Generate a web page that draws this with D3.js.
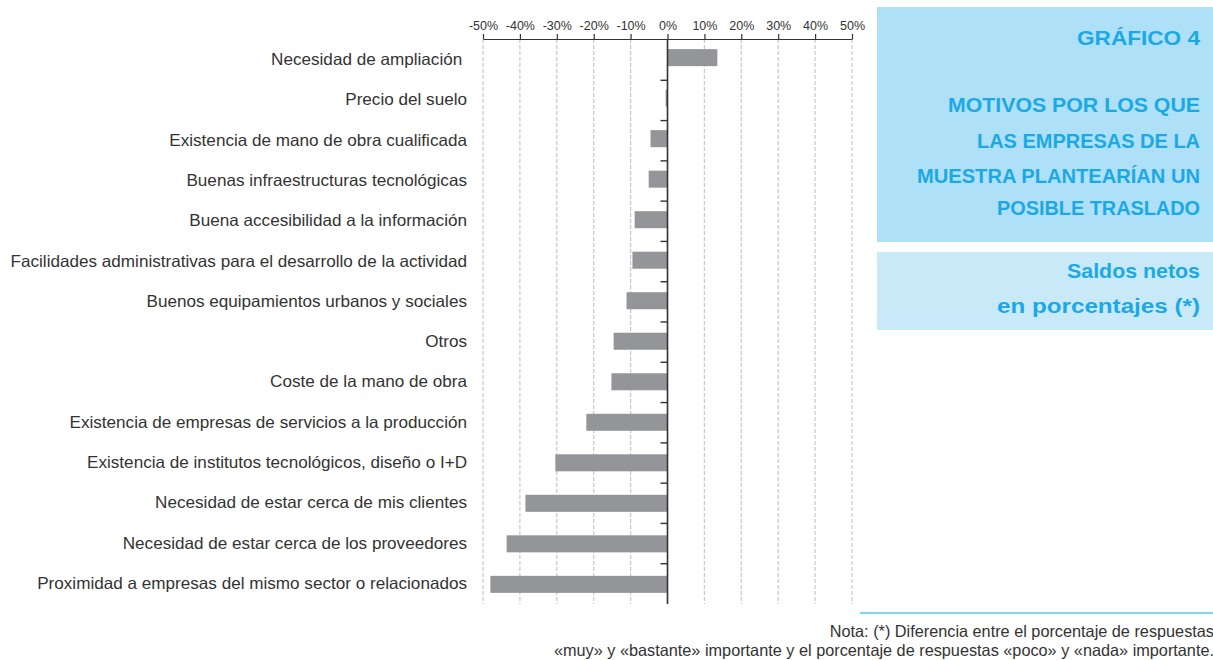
<!DOCTYPE html>
<html><head><meta charset="utf-8">
<script src="https://cdn.jsdelivr.net/npm/d3@7"></script>
<style>
html,body{margin:0;padding:0;background:#fff;overflow:hidden}
svg{display:block}
</style></head>
<body>
<script>
const categories = [
  "Necesidad de ampliación ",
  "Precio del suelo",
  "Existencia de mano de obra cualificada",
  "Buenas infraestructuras tecnológicas",
  "Buena accesibilidad a la información",
  "Facilidades administrativas para el desarrollo de la actividad",
  "Buenos equipamientos urbanos y sociales",
  "Otros",
  "Coste de la mano de obra",
  "Existencia de empresas de servicios a la producción",
  "Existencia de institutos tecnológicos, diseño o I+D",
  "Necesidad de estar cerca de mis clientes",
  "Necesidad de estar cerca de los proveedores",
  "Proximidad a empresas del mismo sector o relacionados"
];
const values = [13.5, -0.5, -4.6, -5.1, -8.9, -9.5, -11.1, -14.6, -15.2, -22.0, -30.4, -38.5, -43.6, -48.0];
const xTicks = [-50, -40, -30, -20, -10, 0, 10, 20, 30, 40, 50];
const titleLines = ["GRÁFICO 4", "MOTIVOS POR LOS QUE", "LAS EMPRESAS DE LA", "MUESTRA PLANTEARÍAN UN", "POSIBLE TRASLADO"];
const subtitleLines = ["Saldos netos", "en porcentajes (*)"];
const noteLines = ["Nota: (*) Diferencia entre el porcentaje de respuestas", "«muy» y «bastante» importante y el porcentaje de respuestas «poco» y «nada» importante."];

const W = 1213, H = 660;
const svg = d3.select("body").append("svg").attr("width", W).attr("height", H);
const FONT = "'Liberation Sans', Arial, sans-serif";

const x = d3.scaleLinear().domain([-50, 50]).range([483, 852]);
const y = d3.scaleBand().domain(categories).range([40, 604]).paddingInner(0.58).paddingOuter(0.25).align(0.45);

function fitFont(sel, target, base) {
  sel.attr("font-size", base);
  const w = sel.node().getComputedTextLength();
  sel.attr("font-size", base * target / w);
  return base * target / w;
}

// gridlines
svg.append("g").selectAll("line").data(xTicks).join("line")
  .attr("x1", d => x(d)).attr("x2", d => x(d))
  .attr("y1", 39).attr("y2", 604)
  .attr("stroke", "#c8c8c8").attr("stroke-width", 1.2).attr("stroke-dasharray", "4,2");

// bars
svg.append("g").selectAll("rect").data(values).join("rect")
  .attr("x", d => x(Math.min(0, d)))
  .attr("width", d => Math.abs(x(d) - x(0)))
  .attr("y", (d, i) => y(categories[i]))
  .attr("height", y.bandwidth())
  .attr("fill", "#939598");

// top axis
const axis = svg.append("g").attr("transform", "translate(0,39)")
  .call(d3.axisTop(x).tickValues(xTicks).tickFormat(d => d + "%").tickSize(5).tickSizeOuter(0));
axis.select(".domain").attr("stroke", "#333").attr("stroke-width", 1.2);
axis.selectAll(".tick line").attr("stroke", "#333").attr("stroke-width", 1.2);
axis.selectAll("text").attr("font-family", FONT).attr("font-size", 12.5).attr("fill", "#333")
  .attr("dy", "-0.1em");

// zero line with category ticks
const yAxis = svg.append("g").attr("transform", `translate(${x(0)},0)`);
yAxis.append("line").attr("x1", 0).attr("x2", 0).attr("y1", 39).attr("y2", 604)
  .attr("stroke", "#333").attr("stroke-width", 1.6);
yAxis.selectAll("line.ct").data(categories.slice(1)).join("line").attr("class", "ct")
  .attr("x1", -7).attr("x2", 0)
  .attr("y1", (d, i) => 40 + (i + 1) * ((604 - 40) / categories.length))
  .attr("y2", (d, i) => 40 + (i + 1) * ((604 - 40) / categories.length))
  .attr("stroke", "#333").attr("stroke-width", 1.4);

// category labels
const labels = svg.append("g").selectAll("text").data(categories).join("text")
  .attr("x", 467)
  .attr("y", (d, i) => 40 + (i + 0.5) * ((604 - 40) / categories.length) + 5)
  .attr("text-anchor", "end")
  .attr("font-family", FONT).attr("fill", "#333")
  .style("white-space", "pre")
  .text(d => d);
const fs = fitFont(labels.filter((d, i) => i === 5), 457, 15);
labels.attr("font-size", fs);

// right panel
svg.append("rect").attr("x", 877).attr("y", 7).attr("width", W - 877).attr("height", 235).attr("fill", "#aee0f7");
svg.append("rect").attr("x", 877).attr("y", 252).attr("width", W - 877).attr("height", 78).attr("fill", "#c8e9f8");
const titleY = [45, 112, 148, 183, 215];
const titleW = [123, 252, 223, 283, 203];
svg.append("g").selectAll("text").data(titleLines).join("text")
  .attr("x", 1200).attr("y", (d, i) => titleY[i])
  .attr("text-anchor", "end").attr("font-family", FONT).attr("font-weight", "bold")
  .attr("font-size", 20).attr("fill", "#1ba9e6")
  .attr("textLength", (d, i) => titleW[i]).attr("lengthAdjust", "spacingAndGlyphs")
  .text(d => d);
const subW = [133, 203];
svg.append("g").selectAll("text").data(subtitleLines).join("text")
  .attr("x", 1200).attr("y", (d, i) => [278, 313][i])
  .attr("text-anchor", "end").attr("font-family", FONT).attr("font-weight", "bold")
  .attr("font-size", 21).attr("fill", "#1ba9e6")
  .attr("textLength", (d, i) => subW[i]).attr("lengthAdjust", "spacingAndGlyphs")
  .text(d => d);

// note
svg.append("line").attr("x1", 860).attr("x2", W).attr("y1", 613).attr("y2", 613)
  .attr("stroke", "#5bc4ef").attr("stroke-width", 1.5);
const notes = svg.append("g").selectAll("text").data(noteLines).join("text")
  .attr("x", 1214).attr("y", (d, i) => [637, 656][i])
  .attr("text-anchor", "end").attr("font-family", FONT).attr("fill", "#333").text(d => d);
const nfs = fitFont(notes.filter((d, i) => i === 1), 661, 13);
notes.attr("font-size", nfs);
</script>
</body></html>
